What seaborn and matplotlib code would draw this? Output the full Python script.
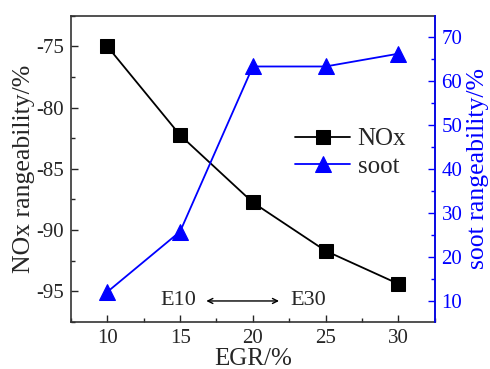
import matplotlib
matplotlib.use("Agg")
import matplotlib.pyplot as plt
from matplotlib.ticker import MultipleLocator
import seaborn as sns
import pandas as pd

egr = [10, 15, 20, 25, 30]
nox = [-75.0, -82.25, -87.75, -91.7, -94.4]
soot = [12.0, 25.7, 63.2, 63.2, 66.1]

df = pd.DataFrame({"EGR": egr, "NOx": nox, "soot": soot})

sns.set_style("ticks")
plt.rcParams["font.family"] = ["Liberation Serif", "DejaVu Serif"]
plt.rcParams["axes.unicode_minus"] = False

fig, ax = plt.subplots(figsize=(4.9, 3.69), dpi=100)
ax2 = ax.twinx()

sns.lineplot(data=df, x="EGR", y="NOx", ax=ax, color="black", marker="s",
             markersize=9.5, markeredgecolor="black", linewidth=1.3, label="NOx", legend=False)
sns.lineplot(data=df, x="EGR", y="soot", ax=ax2, color="blue", marker="^",
             markersize=11, markeredgecolor="blue", linewidth=1.3, label="soot", legend=False)

ax.set_xlim(7.5, 32.5)
ax.set_ylim(-97.5, -72.5)
ax2.set_ylim(5.2, 74.7)

ax.xaxis.set_major_locator(MultipleLocator(5))
ax.xaxis.set_minor_locator(MultipleLocator(2.5))
ax.yaxis.set_major_locator(MultipleLocator(5))
ax.yaxis.set_minor_locator(MultipleLocator(2.5))
ax2.yaxis.set_major_locator(MultipleLocator(10))
ax2.yaxis.set_minor_locator(MultipleLocator(5))

ax.tick_params(axis="both", which="both", direction="in", labelsize=15, top=False, pad=5)
ax.tick_params(which="major", length=5, width=1)
ax.tick_params(which="minor", length=3, width=1)
ax2.tick_params(axis="y", which="both", direction="in", colors="blue", labelsize=15, pad=5)
ax2.tick_params(which="major", length=5, width=1)
ax2.tick_params(which="minor", length=3, width=1)

for s in ax.spines.values():
    s.set_color("#333333")
    s.set_linewidth(1.2)
ax2.spines["right"].set_color("blue")
ax2.spines["right"].set_linewidth(1.2)
ax2.spines["left"].set_visible(False)
ax2.spines["top"].set_visible(False)
ax2.spines["bottom"].set_visible(False)

ax.set_xlabel("EGR/%", fontsize=18, labelpad=0)
ax.set_ylabel("NOx rangeability/%", fontsize=18.5, labelpad=1)
ax2.set_ylabel("soot rangeability/%", fontsize=18.5, color="blue", labelpad=3)

# E10 <-> E30 annotation
ax.text(14.9, -95.8, "E10", ha="center", va="center", fontsize=16)
ax.text(23.8, -95.8, "E30", ha="center", va="center", fontsize=16)
ax.annotate("", xy=(21.8, -95.8), xytext=(16.8, -95.8),
            arrowprops=dict(arrowstyle="<->", color="black", lw=1.0,
                            mutation_scale=9, shrinkA=0, shrinkB=0))

h1, l1 = ax.get_legend_handles_labels()
h2, l2 = ax2.get_legend_handles_labels()
ax2.legend(h1 + h2, l1 + l2, loc="center left", bbox_to_anchor=(0.616, 0.552),
           frameon=False, fontsize=18, handlelength=2.2, handletextpad=0.3,
           borderaxespad=0, borderpad=0, labelspacing=0.2)

fig.subplots_adjust(left=0.145, right=0.887, top=0.957, bottom=0.128)
fig.savefig("out.png", dpi=100)
